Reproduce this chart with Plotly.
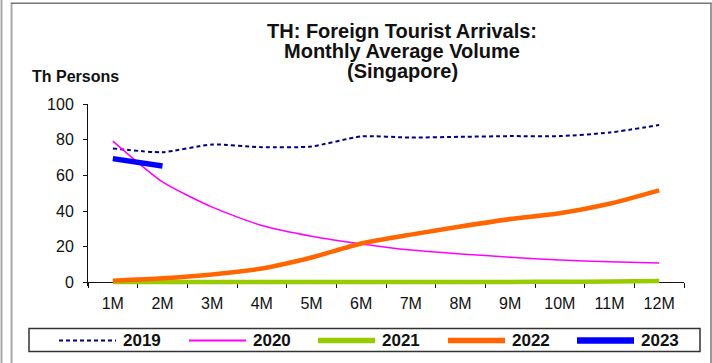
import plotly.graph_objects as go

months = ["1M", "2M", "3M", "4M", "5M", "6M", "7M", "8M", "9M", "10M", "11M", "12M"]
v2019 = [75.1, 73.0, 77.3, 75.8, 76.2, 81.8, 81.2, 81.6, 82.0, 82.0, 84.0, 88.2]
v2020 = [79.2, 56.3, 42.2, 31.9, 25.9, 21.6, 18.2, 16.0, 14.1, 12.6, 11.6, 10.9]
v2021 = [0.3, 0.3, 0.3, 0.3, 0.3, 0.3, 0.3, 0.3, 0.3, 0.4, 0.5, 0.8]
v2022 = [1.0, 2.3, 4.5, 7.8, 14.0, 21.8, 26.8, 31.3, 35.5, 38.8, 44.1, 51.6]
v2023 = [69.4, 65.3]
title_lines = ["TH: Foreign Tourist Arrivals:", "Monthly Average Volume", "(Singapore)"]
y_title = "Th Persons"

W, H = 712, 363
Y_MIN, Y_MAX = -2.0, 100.0
PX_PER_UNIT = 1.78
ZERO_PX = 282
TOP_PX = ZERO_PX - Y_MAX * PX_PER_UNIT
BOT_PX = ZERO_PX - Y_MIN * PX_PER_UNIT
L, R = 88, 28
T, B = TOP_PX, H - BOT_PX
pw, ph = W - L - R, H - T - B


def px_x(p):
    return (p - L) / pw


def px_y(p):
    return (H - B - p) / ph


font_family = "Arial, Liberation Sans, sans-serif"

fig = go.Figure()
series = [
    ("2019", v2019, dict(color="#000080", width=2, dash="4px,3px")),
    ("2020", v2020, dict(color="#FF00FF", width=1.5)),
    ("2021", v2021, dict(color="#99CC00", width=4.5)),
    ("2022", v2022, dict(color="#FF6600", width=4.5)),
    ("2023", v2023, dict(color="#0000FF", width=5.5)),
]
for name, vals, line in series:
    fig.add_trace(go.Scatter(
        x=months[:len(vals)], y=vals, name=name, mode="lines",
        line=dict(shape="spline", smoothing=0.6, **line), showlegend=False,
    ))

annotations = []
shapes = []

for i, txt in enumerate(title_lines):
    annotations.append(dict(
        text="<b>" + txt + "</b>", xref="paper", yref="paper",
        x=px_x(402), y=px_y(31 + 20 * i), xanchor="center", yanchor="middle",
        showarrow=False, font=dict(size=20, color="#111")))

annotations.append(dict(
    text="<b>" + y_title + "</b>", xref="paper", yref="paper",
    x=px_x(30), y=px_y(77), xanchor="left", yanchor="middle",
    showarrow=False, font=dict(size=16, color="#111")))

# legend box
shapes.append(dict(type="rect", xref="paper", yref="paper",
                   x0=px_x(29), x1=px_x(700), y0=px_y(328), y1=px_y(351),
                   line=dict(color="#333", width=1.5), fillcolor="white"))
leg_sample_x = [59, 189, 318, 448, 577]
leg_y = 340
for (name, vals, line), sx in zip(series, leg_sample_x):
    w = line["width"]
    shapes.append(dict(type="line", xref="paper", yref="paper",
                       x0=px_x(sx), x1=px_x(sx + 57), y0=px_y(leg_y), y1=px_y(leg_y),
                       line=dict(color=line["color"], width=w + 1 if w > 4 else max(w, 2),
                                 dash=line.get("dash", "solid"))))
    annotations.append(dict(
        text="<b>" + name + "</b>", xref="paper", yref="paper",
        x=px_x(sx + 62), y=px_y(leg_y), xanchor="left", yanchor="middle",
        showarrow=False, font=dict(size=17, color="#111")))

# outer frame
shapes += [
    dict(type="line", xref="paper", yref="paper", x0=px_x(1.5), x1=px_x(1.5),
         y0=px_y(0), y1=px_y(H), line=dict(color="#aaaaaa", width=2)),
    dict(type="line", xref="paper", yref="paper", x0=px_x(11.5), x1=px_x(11.5),
         y0=px_y(3), y1=px_y(H), line=dict(color="#aaaaaa", width=2)),
    dict(type="line", xref="paper", yref="paper", x0=px_x(11), x1=px_x(711.5),
         y0=px_y(3.5), y1=px_y(3.5), line=dict(color="#777777", width=1.5)),
    dict(type="line", xref="paper", yref="paper", x0=px_x(711), x1=px_x(711),
         y0=px_y(3), y1=px_y(H), line=dict(color="#777777", width=1.5)),
]

fig.update_layout(
    width=W, height=H,
    margin=dict(l=L, r=R, t=T, b=B, autoexpand=False),
    paper_bgcolor="white", plot_bgcolor="white",
    font=dict(family=font_family, size=16, color="#111"),
    showlegend=False,
    xaxis=dict(
        type="category", range=[-0.5, 11.5], tickson="boundaries",
        anchor="free", position=(0 - Y_MIN) / (Y_MAX - Y_MIN),
        showline=True, linecolor="#111", linewidth=1, layer="below traces",
        ticks="outside", ticklen=5, tickcolor="#111", tickwidth=1,
        showgrid=False, zeroline=False, fixedrange=True,
        tickfont=dict(size=16, color="#111"), ticklabelstandoff=6,
    ),
    yaxis=dict(
        range=[Y_MIN, Y_MAX], tickvals=[0, 20, 40, 60, 80, 100],
        showline=True, linecolor="#111", linewidth=1,
        ticks="outside", ticklen=4, tickcolor="#111", tickwidth=1,
        showgrid=False, zeroline=False, fixedrange=True,
        tickfont=dict(size=16, color="#111"), ticklabelstandoff=6,
    ),
    annotations=annotations,
    shapes=shapes,
)

fig.write_html("out.html", config={"displayModeBar": False},
               post_script="document.body.style.margin='0';document.body.style.overflow='hidden';")
